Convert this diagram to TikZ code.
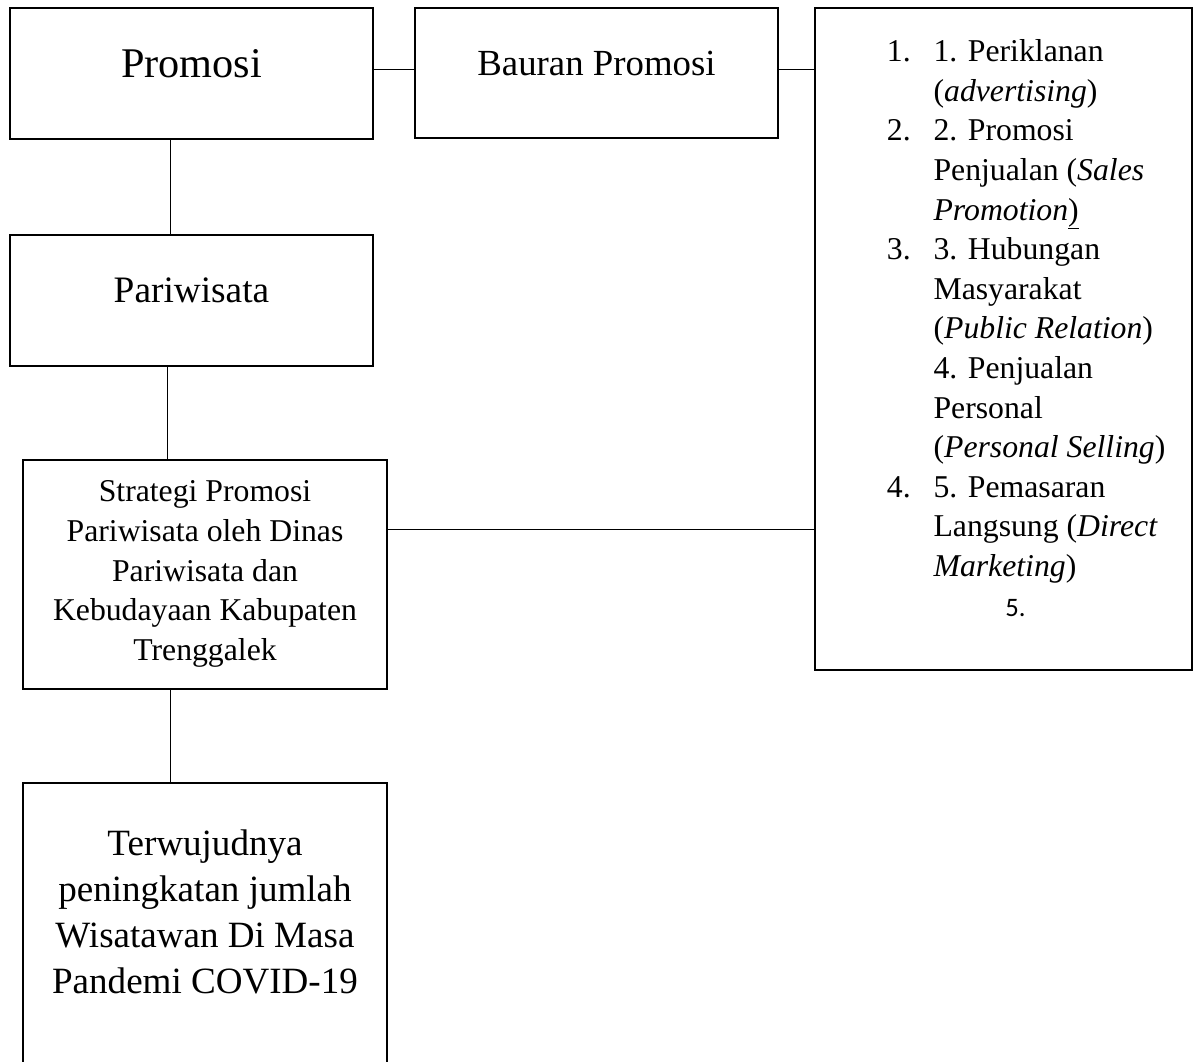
\documentclass[tikz,border=0pt]{standalone}
\usepackage{fontspec}
\setmainfont{Liberation Serif}
\newfontfamily\carlitofont{Carlito}
\begin{document}
\begin{tikzpicture}[x=0.75pt,y=-0.75pt,
  bx/.style={draw, line width=1.5pt, inner sep=0pt, outer sep=0pt},
  cn/.style={line width=0.75pt},
  tx/.style={inner sep=0pt, anchor=base},
  rt/.style={inner sep=0pt, anchor=base west, font=\fontsize{23.8}{28}\selectfont}]
\useasboundingbox[fill=white] (0,0) rectangle (1200,1061);
% boxes
\node[bx, minimum width=363*0.75pt, minimum height=131*0.75pt] (promosi) at (191.5,73.5) {};
\node[bx, minimum width=363*0.75pt, minimum height=130*0.75pt] (bauran) at (596.5,73) {};
\node[bx, minimum width=376.5*0.75pt, minimum height=662*0.75pt] (bauranlist) at (1003.7,339) {};
\node[bx, minimum width=363*0.75pt, minimum height=131*0.75pt] (pariwisata) at (191.5,300.5) {};
\node[bx, minimum width=364*0.75pt, minimum height=229*0.75pt] (strategi) at (205,574.5) {};
\node[bx, minimum width=364*0.75pt, minimum height=337*0.75pt] (hasil) at (205,951.5) {};
% connectors
\draw[cn] ([yshift=3pt]promosi.east) -- ([yshift=3pt]promosi.east -| bauran.west);
\draw[cn] ([yshift=2.6pt]bauran.east) -- ([yshift=2.6pt]bauran.east -| bauranlist.west);
\draw[cn] ([xshift=-15.6pt]promosi.south) -- ([xshift=-15.6pt]promosi.south |- pariwisata.north);
\draw[cn] ([xshift=-17.85pt]pariwisata.south) -- ([xshift=-17.85pt]pariwisata.south |- strategi.north);
\draw[cn] ([yshift=34.1pt]strategi.east) -- ([yshift=34.1pt]strategi.east -| bauranlist.west);
\draw[cn] ([xshift=-25.7pt]strategi.south) -- ([xshift=-25.7pt]strategi.south |- hasil.north);
% texts
\node[tx, font=\fontsize{31.7}{36}\selectfont] (tpromosi) at (191.5,77.3) {Promosi};
\node[tx, font=\fontsize{27.6}{32}\selectfont] (tbauran) at (596.5,75) {Bauran Promosi};
\node[tx, font=\fontsize{28}{32}\selectfont] (tpariwisata) at (191.5,302.3) {Pariwisata};
\foreach \t [count=\i from 0] in {Strategi Promosi, Pariwisata oleh Dinas, Pariwisata dan, Kebudayaan Kabupaten, Trenggalek}
  \node[tx, font=\fontsize{23.8}{28}\selectfont] (ts\i) at (205,{501.7+\i*39.75}) {\t};
\foreach \t [count=\i from 0] in {Terwujudnya, peningkatan jumlah, Wisatawan Di Masa, Pandemi COVID-19}
  \node[tx, font=\fontsize{27.8}{32}\selectfont] (th\i) at (205,{855+\i*46.3}) {\t};
% list in right box
\foreach \t [count=\i from 0] in {
  {1. Periklanan},
  {(\textit{advertising})},
  {2. Promosi},
  {Penjualan (\textit{Sales}},
  {\textit{Promotion}\underline{)}},
  {3. Hubungan},
  {Masyarakat},
  {(\textit{Public Relation})},
  {4. Penjualan},
  {Personal},
  {(\textit{Personal Selling})},
  {5. Pemasaran},
  {Langsung (\textit{Direct}},
  {\textit{Marketing})}}
  \node[rt] (rl\i) at (933.3,{61.7+\i*39.6}) {\t};
\node[rt] (rn1) at (886.7,61.7) {1.};
\node[rt] (rn2) at (886.7,{61.7+2*39.6}) {2.};
\node[rt] (rn3) at (886.7,{61.7+5*39.6}) {3.};
\node[rt] (rn4) at (886.7,{61.7+11*39.6}) {4.};
\node[inner sep=0pt, anchor=base west, font=\carlitofont\fontsize{20}{24}\selectfont] (rn5) at (1005,{61.7+14*39.6}) {5.};
\end{tikzpicture}
\end{document}
